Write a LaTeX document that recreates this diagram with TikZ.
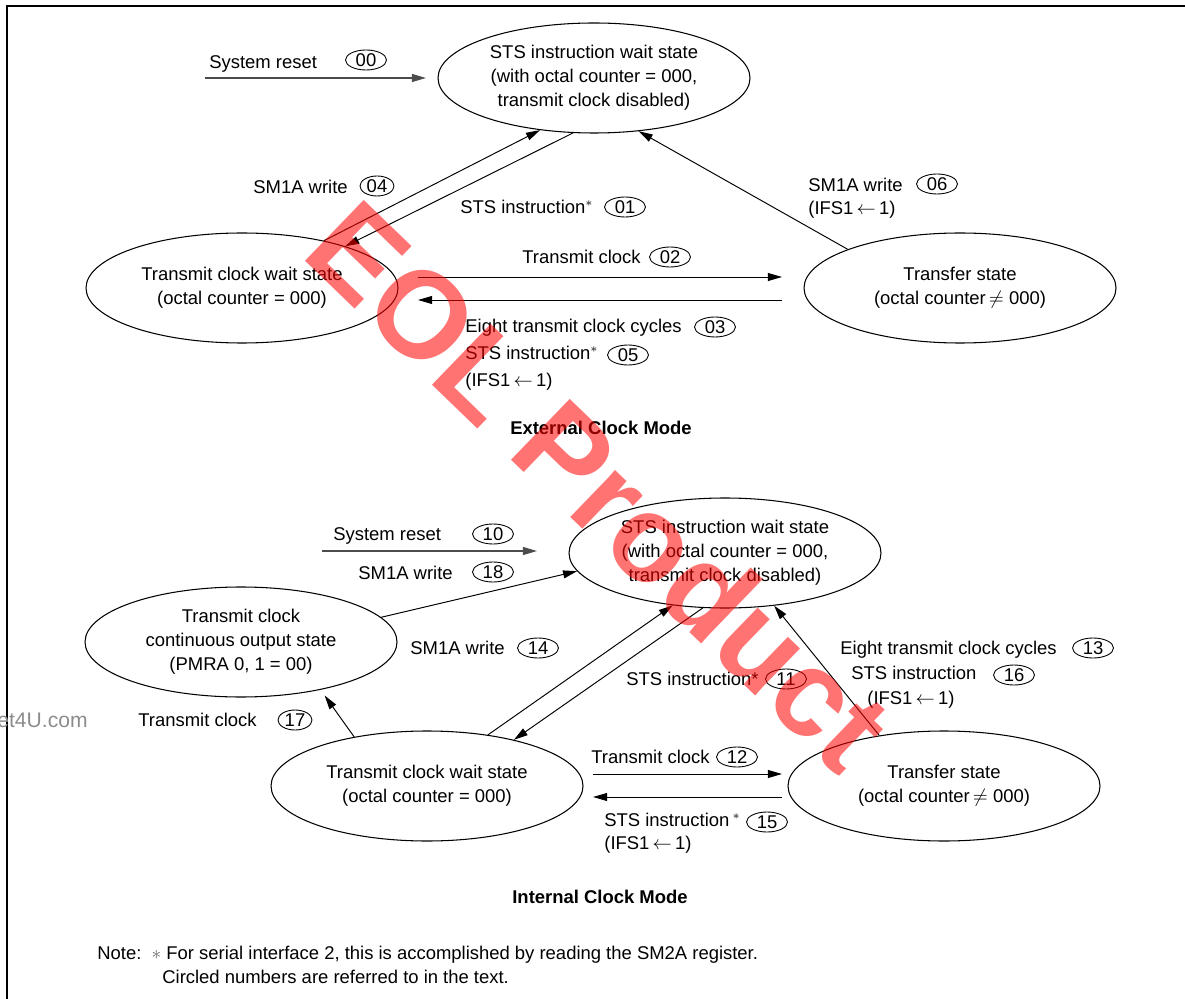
\documentclass[tikz,border=0pt]{standalone}
\usepackage{fontspec}
\setmainfont{Liberation Sans}
\usetikzlibrary{shapes.geometric,arrows.meta,calc}
\newcommand\lbl{\fontsize{10.5}{13.6}\selectfont}
\tikzset{
  st/.style={draw, ellipse, line width=0.6pt, inner sep=0pt,
    minimum width=312*0.02cm, minimum height=110*0.02cm, align=center, font=\lbl},
  cn/.style={draw, ellipse, line width=0.5pt, inner sep=0pt,
    minimum width=41*0.02cm, minimum height=20*0.02cm, font=\lbl},
  lb/.style={anchor=base west, inner sep=0pt, font=\lbl},
  ttl/.style={inner sep=0pt, font=\lbl\bfseries},
  ar/.style={-{Triangle[length=8pt,width=4.5pt]}, line width=0.55pt},
  rs/.style={ar, draw=black!70, line width=0.8pt},
}
\begin{document}
\begin{tikzpicture}[x=0.02cm,y=-0.02cm]
\useasboundingbox (0,0) rectangle (1185,999);
\draw[line width=0.9pt] (7,999) -- (7,6) -- (1185,6);

% ---------- External clock mode ----------
\node[st] (A) at (594,78) {STS instruction wait state\\(with octal counter = 000,\\transmit clock disabled)};
\node[st] (B) at (242,288) {Transmit clock wait state\\(octal counter = 000)};
\node[st] (C) at (960,288) {Transfer state\\(octal counter\,$\neq$ 000)};

\coordinate (r0s) at (205,78);  \coordinate (r0e) at (426,78);
\coordinate (t2s) at (418,277); \coordinate (t2e) at (782,277);
\coordinate (t3s) at (782,300); \coordinate (t3e) at (418,300);

\draw[rs] (r0s) -- (r0e);
\draw[ar] (B.30) -- (A.224);
\draw[ar] (A.249) -- (B.22);
\draw[ar] (C.161) -- (A.310);
\draw[ar] (t2s) -- (t2e);
\draw[ar] (t3s) -- (t3e);

\node[lb] (l00) at (209,68.5) {System reset};
\node[cn] (c00) at (366,60) {00};
\node[lb] (l04) at (253,193.5) {SM1A write};
\node[cn, minimum width=34*0.02cm] (c04) at (377,186) {04};
\node[lb] (l01) at (460,213.5) {STS instruction$^{*}$};
\node[cn] (c01) at (625,207) {01};
\node[lb] (l06) at (808,191.5) {SM1A write};
\node[cn] (c06) at (937,184) {06};
\node[lb] (l06b) at (808,214.5) {(IFS1$\,\leftarrow\,$1)};
\node[lb] (l02) at (522,263.5) {Transmit clock};
\node[cn] (c02) at (670,257) {02};
\node[lb] (l03) at (465,332.5) {Eight transmit clock cycles};
\node[cn] (c03) at (715,327) {03};
\node[lb] (l05) at (465,359.5) {STS instruction$^{*}$};
\node[cn] (c05) at (628,355) {05};
\node[lb] (l05b) at (465,386.5) {(IFS1$\,\leftarrow\,$1)};
\node[ttl] (t1) at (601,428) {External Clock Mode};

% ---------- Internal clock mode ----------
\node[st] (D) at (725,553) {STS instruction wait state\\(with octal counter = 000,\\transmit clock disabled)};
\node[st] (E) at (241,642) {Transmit clock\\continuous output state\\(PMRA 0, 1 = 00)};
\node[st] (F) at (427,786) {Transmit clock wait state\\(octal counter = 000)};
\node[st] (G) at (944,786) {Transfer state\\(octal counter\,$\neq$ 000)};

\coordinate (r1s) at (322,551);  \coordinate (r1e) at (537,551);
\coordinate (t12s) at (593,774); \coordinate (t12e) at (782,774);
\coordinate (t15s) at (782,797); \coordinate (t15e) at (593,797);

\draw[rs] (r1s) -- (r1e);
\draw[ar] (E.10) -- (D.187);
\draw[ar] (F.40) -- (D.225);
\draw[ar] (D.248) -- (F.28);
\draw[ar] (G.142) -- (D.313);
\draw[ar, shorten >=0.14cm] (F.146) -- (E.-31);
\draw[ar] (t12s) -- (t12e);
\draw[ar] (t15s) -- (t15e);

\node[lb] (l10) at (333,540.5) {System reset};
\node[cn] (c10) at (493,534) {10};
\node[lb] (l18) at (358,579.5) {SM1A write};
\node[cn] (c18) at (493,572) {18};
\node[lb] (l14) at (410,654.5) {SM1A write};
\node[cn] (c14) at (538,648) {14};
\node[lb] (l11) at (626,685.5) {STS instruction*};
\node[cn] (c11) at (786,679) {11};
\node[lb] (l13) at (840,654.5) {Eight transmit clock cycles};
\node[cn] (c13) at (1093,648) {13};
\node[lb] (l16) at (851,679.5) {STS instruction};
\node[cn] (c16) at (1014,675) {16};
\node[lb] (l16b) at (867,704.5) {(IFS1$\,\leftarrow\,$1)};
\node[lb] (l17) at (138,726.5) {Transmit clock};
\node[cn, minimum width=34*0.02cm] (c17) at (295,720) {17};
\node[lb] (l12) at (591,763.5) {Transmit clock};
\node[cn] (c12) at (737,757) {12};
\node[lb] (l15) at (604,826.5) {STS instruction\,$^{\ast}$};
\node[cn] (c15) at (767,822) {15};
\node[lb] (l15b) at (604,849.5) {(IFS1$\,\leftarrow\,$1)};
\node[ttl] (t2) at (600,897) {Internal Clock Mode};

\node[lb] (n1) at (97,959.5) {Note:\ \ {\color{black!60}$\ast$} For serial interface 2, this is accomplished by reading the SM2A register.};
\node[lb] (n2) at (162,983.5) {Circled numbers are referred to in the text.};

% ---------- watermarks ----------
\begin{scope}
\clip (0,0) rectangle (1185,999);
\node[anchor=east, text=black!45, font=\fontsize{12}{12}\selectfont, inner sep=0pt] (ds) at (88,720) {DataSheet4U.com};
\end{scope}
\node[text=red, text opacity=0.55, font=\fontsize{70}{70}\selectfont\bfseries, rotate=-44, inner sep=0pt] (wm) at (600,485) {EOL Product};
\end{tikzpicture}
\end{document}
